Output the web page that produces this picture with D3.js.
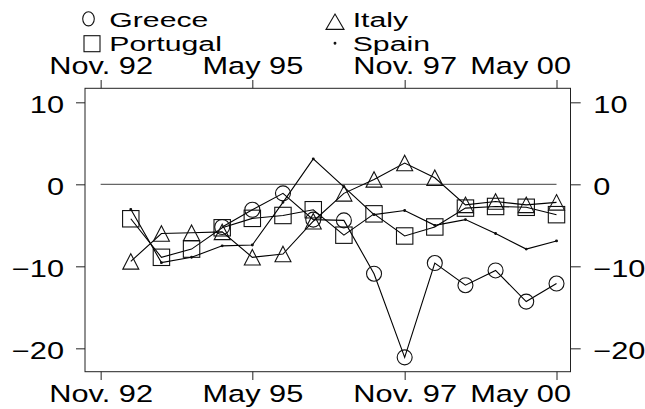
<!DOCTYPE html>
<html>
<head>
<meta charset="utf-8">
<script src="https://cdn.jsdelivr.net/npm/d3@7"></script>
<style>
  html, body { margin: 0; padding: 0; background: #fff; }
  svg { display: block; }
</style>
</head>
<body>
<svg id="chart" width="645" height="409"></svg>
<script>
// Half-yearly observations, May 1993 to May 2000
const periods = ["1993-05","1993-11","1994-05","1994-11","1995-05","1995-11","1996-05",
                 "1996-11","1997-05","1997-11","1998-05","1998-11","1999-05","1999-11","2000-05"];
const greece   = [null, null, null, -5.2, -3.1, -1.1, -4.3, -4.4, -10.9, -21.1, -9.6, -12.3, -10.5, -14.3, -12.1];
const italy    = [-9.4, -6.0, -5.9, -5.8, -8.9, -8.5, -4.5, -1.1, 0.6, 2.6, 0.8, -2.5, -2.1, -2.5, -2.2];
const portugal = [-4.2, -8.9, -7.9, -5.3, -4.15, -3.8, -3.1, -6.2, -3.6, -6.3, -5.2, -2.9, -2.7, -2.8, -3.7];
const spain    = [-3.05, -9.55, -8.9, -7.5, -7.4, -2.2, 3.1, -0.3, -3.7, -3.2, -5.0, -4.3, -6.0, -7.9, -6.9];

const xTickDates  = ["1992-11","1995-05","1997-11","2000-05"];
const xTickLabels = ["Nov. 92","May 95","Nov. 97","May 00"];
const yTicks = [-20, -10, 0, 10];

const legendNames = ["Greece", "Italy", "Portugal", "Spain"];

const parse = d3.timeParse("%Y-%m");
const svg = d3.select("#chart");
const FONT = "'Liberation Sans', Arial, Helvetica, sans-serif";

// plot frame
const frame = { left: 85, right: 570.5, top: 88.3, bottom: 371.7 };

const x = d3.scaleTime()
  .domain([d3.timeDay.offset(parse("1992-11"), -94), d3.timeDay.offset(parse("2000-05"), 84)])
  .range([frame.left, frame.right]);

const y = d3.scaleLinear()
  .domain([-22.85, 11.71])
  .range([frame.bottom, frame.top]);

svg.append("rect").attr("width", 645).attr("height", 409).attr("fill", "#fff");

// frame box
svg.append("rect")
  .attr("x", frame.left).attr("y", frame.top)
  .attr("width", frame.right - frame.left).attr("height", frame.bottom - frame.top)
  .attr("fill", "none").attr("stroke", "#222").attr("stroke-width", 1);

// zero reference line spanning the first to the last labelled date
svg.append("line")
  .attr("x1", x(parse(xTickDates[0]))).attr("x2", x(parse(xTickDates[xTickDates.length - 1])))
  .attr("y1", y(0)).attr("y2", y(0))
  .attr("stroke", "#666").attr("stroke-width", 1.3);

// axes: ticks come from d3, labels restyled with a wide Helvetica look
const axisSX = 1.32, axisFS = 23.3;
const tickDates = xTickDates.map(parse);
const fmtX = d => xTickLabels[tickDates.findIndex(t => +t === +d)];

function styleTexts(g, dx, dy, anchor) {
  g.select(".domain").remove();
  g.selectAll(".tick line").attr("stroke", "#222").attr("stroke-width", 1);
  g.selectAll(".tick text")
    .attr("x", null).attr("y", null).attr("dy", null)
    .attr("fill", "#000")
    .attr("font-family", FONT).attr("font-size", axisFS)
    .attr("text-anchor", anchor)
    .attr("transform", `translate(${dx},${dy}) scale(${axisSX},1)`);
}

// keep the last date label inside the frame's right edge
function clampRight(g, dy) {
  g.selectAll(".tick").each(function(d) {
    const t = d3.select(this).select("text");
    const w = t.node().getComputedTextLength() * axisSX;
    const cx = x(d);
    let shift = 0;
    if (cx + w / 2 > frame.right) shift = frame.right - w / 2 - cx;
    t.attr("transform", `translate(${shift},${dy}) scale(${axisSX},1)`);
  });
}

const gBottom = svg.append("g").attr("transform", `translate(0,${frame.bottom})`)
  .call(d3.axisBottom(x).tickValues(tickDates).tickFormat(fmtX).tickSize(8.3).tickSizeOuter(0));
styleTexts(gBottom, 0, 30, "middle");
clampRight(gBottom, 30);

const gTop = svg.append("g").attr("transform", `translate(0,${frame.top})`)
  .call(d3.axisTop(x).tickValues(tickDates).tickFormat(fmtX).tickSize(8.3).tickSizeOuter(0));
styleTexts(gTop, 0, -14.3, "middle");
clampRight(gTop, -14.3);

const gLeft = svg.append("g").attr("transform", `translate(${frame.left},0)`)
  .call(d3.axisLeft(y).tickValues(yTicks).tickFormat(d3.format("d")).tickSize(9).tickSizeOuter(0));
styleTexts(gLeft, -21, 10.2, "end");

const gRight = svg.append("g").attr("transform", `translate(${frame.right},0)`)
  .call(d3.axisRight(y).tickValues(yTicks).tickFormat(d3.format("d")).tickSize(10.2).tickSizeOuter(0));
styleTexts(gRight, 22.8, 10.4, "start");

// series
const dates = periods.map(parse);
const toPts = arr => arr.map((v, i) => ({ d: dates[i], v }));
const line = d3.line().defined(p => p.v != null).x(p => x(p.d)).y(p => y(p.v));

const series = [
  { name: "Greece",   values: greece,   marker: "circle" },
  { name: "Portugal", values: portugal, marker: "square" },
  { name: "Italy",    values: italy,    marker: "triangle" },
  { name: "Spain",    values: spain,    marker: "dot" }
];

const triPath = (w, h) => `M0,${-h / 2}L${w / 2},${h / 2}L${-w / 2},${h / 2}Z`;

function drawMarker(g, kind, cx, cy) {
  if (kind === "circle") {
    g.append("circle").attr("cx", cx).attr("cy", cy).attr("r", 7.5);
  } else if (kind === "square") {
    g.append("rect").attr("x", cx - 8.2).attr("y", cy - 8.2).attr("width", 16.4).attr("height", 16.4);
  } else if (kind === "triangle") {
    g.append("path").attr("transform", `translate(${cx},${cy})`).attr("d", triPath(16, 15.5));
  } else {
    g.append("circle").attr("cx", cx).attr("cy", cy).attr("r", 0.9).attr("fill", "#000");
  }
}

series.forEach(s => {
  const pts = toPts(s.values);
  svg.append("path").datum(pts)
    .attr("d", line)
    .attr("fill", "none").attr("stroke", "#000").attr("stroke-width", 1.1);
  const g = svg.append("g").attr("fill", "none").attr("stroke", "#111").attr("stroke-width", 1.1);
  pts.filter(p => p.v != null).forEach(p => drawMarker(g, s.marker, x(p.d), y(p.v)));
});

// legend, two columns
const legFS = 21, legSX = 1.44;
const leg = svg.append("g");
const legendItems = [
  { name: legendNames[0], marker: "circle",   mx: 88.5, my: 18.8, tx: 109.3, ty: 27.3 },
  { name: legendNames[1], marker: "triangle", mx: 335,  my: 21.7, tx: 352.7, ty: 27.3 },
  { name: legendNames[2], marker: "square",   mx: 92,   my: 43.7, tx: 109.3, ty: 50.7 },
  { name: legendNames[3], marker: "dot",      mx: 335,  my: 43.3, tx: 352.7, ty: 50.7 }
];
legendItems.forEach(it => {
  const g = leg.append("g").attr("fill", "none").attr("stroke", "#111").attr("stroke-width", 1.1);
  if (it.marker === "circle") {
    g.append("ellipse").attr("cx", it.mx).attr("cy", it.my).attr("rx", 5.8).attr("ry", 7.1);
  } else if (it.marker === "square") {
    g.append("rect").attr("x", it.mx - 8).attr("y", it.my - 8).attr("width", 16).attr("height", 16);
  } else if (it.marker === "triangle") {
    g.append("path").attr("transform", `translate(${it.mx},${it.my})`).attr("d", triPath(18, 15.3));
  } else {
    g.append("circle").attr("cx", it.mx).attr("cy", it.my).attr("r", 0.9).attr("fill", "#000");
  }
  leg.append("text")
    .attr("transform", `translate(${it.tx},${it.ty}) scale(${legSX},1)`)
    .attr("font-family", FONT).attr("font-size", legFS).attr("fill", "#000")
    .text(it.name);
});
</script>
</body>
</html>
